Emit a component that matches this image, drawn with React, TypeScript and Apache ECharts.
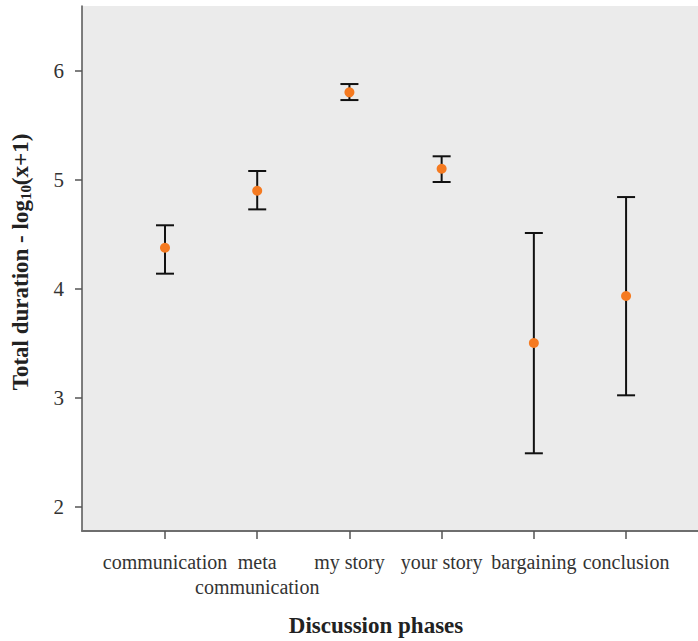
import React, { useEffect, useRef } from "react";
import * as echarts from "echarts";

const categories = ["communication", "meta\ncommunication", "my story", "your story", "bargaining", "conclusion"];
const positions = [1, 2, 3, 4, 5, 6];
const means = [4.376, 4.899, 5.802, 5.101, 3.502, 3.933];
const lows = [4.138, 4.728, 5.731, 4.979, 2.49, 3.022];
const highs = [4.582, 5.08, 5.878, 5.215, 4.511, 4.841];
const yTicks = [2, 3, 4, 5, 6];

const FONT = "'Liberation Serif', 'DejaVu Serif', serif";

export default function App() {
  const ref = useRef<HTMLDivElement>(null);
  useEffect(() => {
    if (!ref.current) return;
    const chart = echarts.init(ref.current, undefined, { renderer: "svg" });
    const errData = positions.map((p, i) => [p, lows[i], highs[i]]);
    const ptData = positions.map((p, i) => [p, means[i]]);
    const oddPos = positions.filter((_, i) => i % 2 === 0);
    const evenPos = positions.filter((_, i) => i % 2 === 1);
    const mkX = (vals: number[], showLine: boolean) => ({
      type: "value",
      position: "bottom",
      min: 0.1,
      max: 6.78,
      axisLine: { show: showLine, onZero: false, lineStyle: { color: "#6e6e6e", width: 2 } },
      axisTick: { show: true, customValues: vals, length: 8, lineStyle: { color: "#555", width: 1.5 } },
      axisLabel: {
        customValues: vals,
        showMinLabel: true,
        showMaxLabel: true,
        hideOverlap: false,
        margin: 18,
        fontFamily: FONT,
        fontSize: 20,
        lineHeight: 25,
        color: "#333",
        formatter: (v: number) => categories[Math.round(v) - 1] ?? "",
      },
      splitLine: { show: false },
    });
    chart.setOption({
      animation: false,
      grid: { left: 82, top: 6, right: 0, bottom: 110, show: true, backgroundColor: "#ebebeb", borderWidth: 0 },
      xAxis: [mkX(oddPos, true), mkX(evenPos, false)],
      yAxis: {
        type: "value",
        min: 1.777,
        max: 6.594,
        axisLine: { show: true, lineStyle: { color: "#555", width: 1.5 } },
        axisTick: { show: true, customValues: yTicks, length: 7, lineStyle: { color: "#555", width: 1.5 } },
        axisLabel: {
          customValues: yTicks,
          showMinLabel: true,
          showMaxLabel: true,
          margin: 18,
          fontFamily: FONT,
          fontSize: 21,
          color: "#333",
        },
        splitLine: { show: false },
      },
      graphic: [
        {
          type: "text",
          x: 376,
          y: 625,
          style: {
            text: "Discussion phases",
            font: `bold 23px ${FONT}`,
            fill: "#222",
            align: "center",
            verticalAlign: "middle",
          },
        },
        {
          type: "text",
          x: 20,
          y: 262,
          rotation: Math.PI / 2,
          style: {
            text: "{a|Total duration - log}{s|10}{a|(x+1)}",
            align: "center",
            verticalAlign: "middle",
            rich: {
              a: { font: `bold 23px ${FONT}`, fill: "#222" },
              s: { font: `bold 15px ${FONT}`, fill: "#222", padding: [11, 0, 0, 0] },
            },
          },
        },
      ],
      series: [
        {
          type: "custom",
          xAxisIndex: 0,
          data: errData,
          renderItem: (params: any, api: any) => {
            const x = api.value(0);
            const lo = api.coord([x, api.value(1)]);
            const hi = api.coord([x, api.value(2)]);
            const hw = 9;
            const st = { stroke: "#111", lineWidth: 2 };
            return {
              type: "group",
              children: [
                { type: "line", shape: { x1: lo[0], y1: lo[1], x2: hi[0], y2: hi[1] }, style: st },
                { type: "line", shape: { x1: lo[0] - hw, y1: lo[1], x2: lo[0] + hw, y2: lo[1] }, style: st },
                { type: "line", shape: { x1: hi[0] - hw, y1: hi[1], x2: hi[0] + hw, y2: hi[1] }, style: st },
              ],
            };
          },
          z: 2,
        },
        {
          type: "scatter",
          xAxisIndex: 0,
          data: ptData,
          symbol: "circle",
          symbolSize: 10,
          itemStyle: { color: "#f57a20", opacity: 1 },
          z: 3,
        },
      ],
    });
    return () => chart.dispose();
  }, []);
  return <div ref={ref} style={{ width: 698, height: 641, position: "absolute", left: 0, top: 0 }} />;
}
